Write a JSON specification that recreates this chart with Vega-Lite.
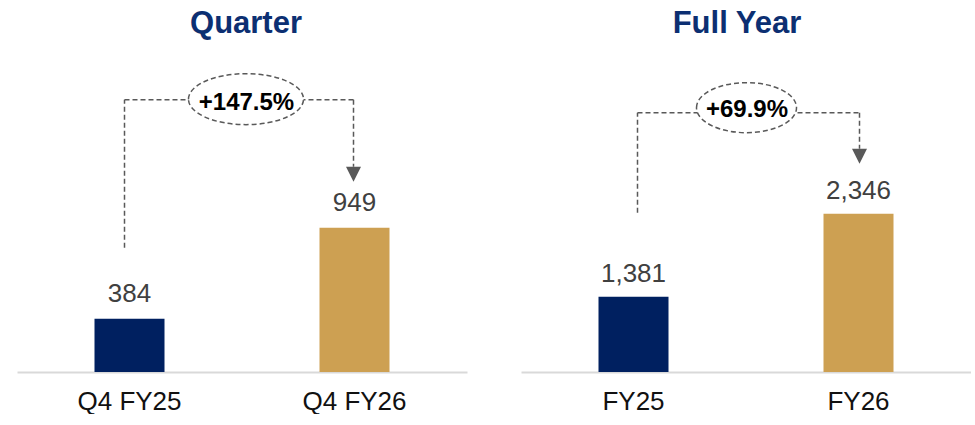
{
  "$schema": "https://vega.github.io/schema/vega-lite/v6.json",
  "padding": {"left": 17, "top": 8, "right": 0, "bottom": 0},
  "background": "white",
  "datasets": {
    "quarter": [
      {"period": "Q4 FY25", "fy": "FY25", "value": 384},
      {"period": "Q4 FY26", "fy": "FY26", "value": 949}
    ],
    "quarterChange": [
      {"from": "Q4 FY25", "to": "Q4 FY26", "v1": 384, "v2": 949, "change": "+147.5%"}
    ],
    "fullyear": [
      {"period": "FY25", "fy": "FY25", "value": 1381},
      {"period": "FY26", "fy": "FY26", "value": 2346}
    ],
    "fullyearChange": [
      {"from": "FY25", "to": "FY26", "v1": 1381, "v2": 2346, "change": "+69.9%"}
    ]
  },
  "config": {
    "view": {"stroke": null},
    "font": "Liberation Sans",
    "title": {"font": "Liberation Sans", "fontSize": 31, "fontWeight": "bold", "color": "#0c2f72", "anchor": "middle", "offset": 10},
    "axisX": {
      "title": null, "ticks": false, "tickSize": 0, "grid": false,
      "domainColor": "#d9d9d9", "domainWidth": 2,
      "labelFont": "Liberation Sans", "labelFontSize": 26, "labelColor": "#111111",
      "labelPadding": 16, "labelAngle": 0
    }
  },
  "spacing": 54,
  "hconcat": [
    {
      "title": {"text": "Quarter", "dx": 4},
      "width": 450,
      "height": 322,
      "data": {"name": "quarter"},
      "layer": [
        {
          "mark": {"type": "bar", "size": 70},
          "encoding": {
            "x": {"field": "period", "type": "nominal", "sort": null, "scale": {"paddingInner": 0, "paddingOuter": 0}},
            "y": {"field": "value", "type": "quantitative", "scale": {"domain": [53, 2052], "zero": false, "nice": false}, "axis": null},
            "y2": {"datum": 53},
            "color": {"field": "fy", "type": "nominal", "scale": {"domain": ["FY25", "FY26"], "range": ["#002060", "#CDA052"]}, "legend": null}
          }
        },
        {
          "mark": {"type": "text", "fontSize": 26, "color": "#404040", "baseline": "alphabetic", "dy": -17},
          "encoding": {
            "x": {"field": "period", "type": "nominal", "sort": null},
            "y": {"field": "value", "type": "quantitative"},
            "text": {"field": "value", "type": "quantitative", "format": ","}
          }
        },
        {
          "data": {"name": "quarterChange"},
          "mark": {"type": "rule", "color": "#595959", "strokeWidth": 1.5, "strokeDash": [5, 3], "xOffset": -5, "yOffset": -71, "y2Offset": -128},
          "encoding": {
            "x": {"field": "from", "type": "nominal"},
            "y": {"field": "v1", "type": "quantitative"},
            "y2": {"field": "v2"}
          }
        },
        {
          "data": {"name": "quarterChange"},
          "mark": {"type": "rule", "color": "#595959", "strokeWidth": 1.5, "strokeDash": [5, 3], "xOffset": -5, "x2Offset": -1, "yOffset": -128},
          "encoding": {
            "x": {"field": "from", "type": "nominal"},
            "x2": {"field": "to"},
            "y": {"field": "v2", "type": "quantitative"}
          }
        },
        {
          "data": {"name": "quarterChange"},
          "mark": {"type": "rule", "color": "#595959", "strokeWidth": 1.5, "strokeDash": [5, 3], "xOffset": -1, "yOffset": -128, "y2Offset": -61},
          "encoding": {
            "x": {"field": "to", "type": "nominal"},
            "y": {"field": "v2", "type": "quantitative"},
            "y2": {"field": "v2"}
          }
        },
        {
          "data": {"name": "quarterChange"},
          "mark": {"type": "point", "shape": "M -1 -1 L 1 -1 L 0 1 Z", "size": 225, "filled": true, "color": "#595959", "opacity": 1, "xOffset": -1, "yOffset": -53.5},
          "encoding": {
            "x": {"field": "to", "type": "nominal"},
            "y": {"field": "v2", "type": "quantitative"}
          }
        },
        {
          "data": {"name": "quarterChange"},
          "mark": {"type": "point", "shape": "M -1 0 C -1 -0.245 -0.552 -0.443 0 -0.443 C 0.552 -0.443 1 -0.245 1 0 C 1 0.245 0.552 0.443 0 0.443 C -0.552 0.443 -1 0.245 -1 0 Z", "size": 13225, "fill": "white", "fillOpacity": 1, "stroke": "#595959", "strokeWidth": 1.5, "strokeDash": [5, 3], "opacity": 1, "xOffset": 116.5, "yOffset": -128.5},
          "encoding": {
            "x": {"field": "from", "type": "nominal"},
            "y": {"field": "v2", "type": "quantitative"}
          }
        },
        {
          "data": {"name": "quarterChange"},
          "mark": {"type": "text", "fontSize": 24, "fontWeight": "bold", "color": "#000000", "baseline": "alphabetic", "xOffset": 117, "yOffset": -118},
          "encoding": {
            "x": {"field": "from", "type": "nominal"},
            "y": {"field": "v2", "type": "quantitative"},
            "text": {"field": "change"}
          }
        }
      ]
    },
    {
      "title": {"text": "Full Year", "dx": -9},
      "width": 450,
      "height": 322,
      "data": {"name": "fullyear"},
      "layer": [
        {
          "mark": {"type": "bar", "size": 70},
          "encoding": {
            "x": {"field": "period", "type": "nominal", "sort": null, "scale": {"paddingInner": 0, "paddingOuter": 0}},
            "y": {"field": "value", "type": "quantitative", "scale": {"domain": [505, 4249], "zero": false, "nice": false}, "axis": null},
            "y2": {"datum": 505},
            "color": {"field": "fy", "type": "nominal", "scale": {"domain": ["FY25", "FY26"], "range": ["#002060", "#CDA052"]}, "legend": null}
          }
        },
        {
          "mark": {"type": "text", "fontSize": 26, "color": "#404040", "baseline": "alphabetic", "dy": -15},
          "encoding": {
            "x": {"field": "period", "type": "nominal", "sort": null},
            "y": {"field": "value", "type": "quantitative"},
            "text": {"field": "value", "type": "quantitative", "format": ","}
          }
        },
        {
          "data": {"name": "fullyearChange"},
          "mark": {"type": "rule", "color": "#595959", "strokeWidth": 1.5, "strokeDash": [5, 3], "xOffset": 4, "yOffset": -84, "y2Offset": -101},
          "encoding": {
            "x": {"field": "from", "type": "nominal"},
            "y": {"field": "v1", "type": "quantitative"},
            "y2": {"field": "v2"}
          }
        },
        {
          "data": {"name": "fullyearChange"},
          "mark": {"type": "rule", "color": "#595959", "strokeWidth": 1.5, "strokeDash": [5, 3], "xOffset": 4, "x2Offset": 1, "yOffset": -101},
          "encoding": {
            "x": {"field": "from", "type": "nominal"},
            "x2": {"field": "to"},
            "y": {"field": "v2", "type": "quantitative"}
          }
        },
        {
          "data": {"name": "fullyearChange"},
          "mark": {"type": "rule", "color": "#595959", "strokeWidth": 1.5, "strokeDash": [5, 3], "xOffset": 1, "yOffset": -101, "y2Offset": -65},
          "encoding": {
            "x": {"field": "to", "type": "nominal"},
            "y": {"field": "v2", "type": "quantitative"},
            "y2": {"field": "v2"}
          }
        },
        {
          "data": {"name": "fullyearChange"},
          "mark": {"type": "point", "shape": "M -1 -1 L 1 -1 L 0 1 Z", "size": 225, "filled": true, "color": "#595959", "opacity": 1, "xOffset": 1, "yOffset": -57.5},
          "encoding": {
            "x": {"field": "to", "type": "nominal"},
            "y": {"field": "v2", "type": "quantitative"}
          }
        },
        {
          "data": {"name": "fullyearChange"},
          "mark": {"type": "point", "shape": "M -1 0 C -1 -0.276 -0.552 -0.5 0 -0.5 C 0.552 -0.5 1 -0.276 1 0 C 1 0.276 0.552 0.5 0 0.5 C -0.552 0.5 -1 0.276 -1 0 Z", "size": 10000, "fill": "white", "fillOpacity": 1, "stroke": "#595959", "strokeWidth": 1.5, "strokeDash": [5, 3], "opacity": 1, "xOffset": 113, "yOffset": -106},
          "encoding": {
            "x": {"field": "from", "type": "nominal"},
            "y": {"field": "v2", "type": "quantitative"}
          }
        },
        {
          "data": {"name": "fullyearChange"},
          "mark": {"type": "text", "fontSize": 24, "fontWeight": "bold", "color": "#000000", "baseline": "alphabetic", "xOffset": 113.5, "yOffset": -97},
          "encoding": {
            "x": {"field": "from", "type": "nominal"},
            "y": {"field": "v2", "type": "quantitative"},
            "text": {"field": "change"}
          }
        }
      ]
    }
  ]
}
